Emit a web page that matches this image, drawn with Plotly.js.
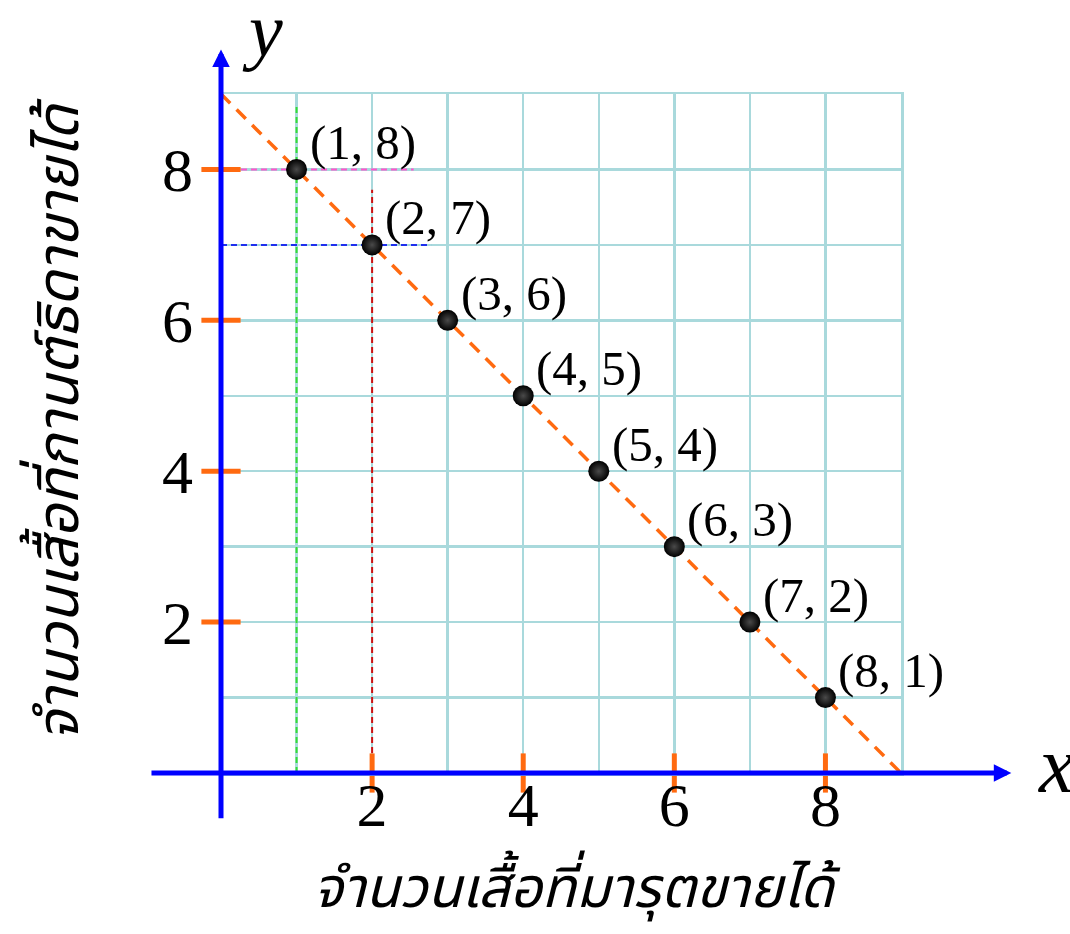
<!DOCTYPE html>
<html><head><meta charset="utf-8">
<script src="https://cdn.plot.ly/plotly-3.0.1.min.js"></script>
<style>html,body{margin:0;padding:0;background:#fff;}#chart{width:1070px;height:934px;}</style>
</head><body><div id="chart"></div>
<script>
// ---- data ----
const pointX = [1, 2, 3, 4, 5, 6, 7, 8];
const pointY = [8, 7, 6, 5, 4, 3, 2, 1];
const lineX = [0, 9];
const lineY = [9, 0];
const tickVals = [2, 4, 6, 8];
const tickText = ['2', '4', '6', '8'];
const greenGuideX = [1, 1];    const greenGuideY = [0, 8.85];
const pinkGuideX = [0, 2.55];  const pinkGuideY = [8, 8];
const redGuideX = [2, 2];      const redGuideY = [0, 7.73];
const blueGuideX = [0, 2.78];  const blueGuideY = [7, 7];
const xAxisSpan = [-0.94, 10.46];
const yAxisSpan = [-0.62, 9.59];
const xTitle = 'จำนวนเสื้อที่มารุตขายได้';
const yTitle = 'จำนวนเสื้อที่กานต์ธิดาขายได้';

// ---- styles ----
const RANGE = [0, 9];
const GRID = '#a9d9dc';
const ORANGE = '#ff6a10';
const SERIF = 'Liberation Serif, Times New Roman, serif';
const THAI = 'Noto Sans Thai, Noto Sans Thai UI, Loma, Garuda, Tlwg Typo, Noto Sans, sans-serif';
const PLOT_W = 1070 - 221 - 169;
const PLOT_H = 934 - 94 - 161;

function guide(x, y, color) {
  return {x: x, y: y, mode: 'lines', hoverinfo: 'skip', showlegend: false,
          line: {color: color, width: 2, dash: '6px,4px'}};
}

const traces = [
  guide(greenGuideX, greenGuideY, '#33dd33'),
  guide(pinkGuideX, pinkGuideY, '#ff55cc'),
  guide(redGuideX, redGuideY, '#cc1111'),
  guide(blueGuideX, blueGuideY, '#1f2fee'),
  {x: lineX, y: lineY, mode: 'lines', hoverinfo: 'skip', showlegend: false,
   line: {color: ORANGE, width: 3.5, dash: '13px,9px'}},
  {x: tickVals.map(() => 0), y: tickVals, mode: 'markers', cliponaxis: false, showlegend: false,
   marker: {symbol: 'line-ew', size: 28, line: {color: ORANGE, width: 5}}},
  {x: tickVals, y: tickVals.map(() => 0), mode: 'markers', cliponaxis: false, showlegend: false,
   marker: {symbol: 'line-ns', size: 28, line: {color: ORANGE, width: 5}}},
  {x: pointX, y: pointY, mode: 'markers', cliponaxis: false, showlegend: false,
   marker: {size: 21, color: '#000', gradient: {type: 'radial', color: '#4a4a4a'}, line: {width: 0}}}
];

const toPaper = (v) => (v - RANGE[0]) / (RANGE[1] - RANGE[0]);
const annotations = [
  // blue x axis with arrow
  {xref: 'paper', yref: 'paper', x: toPaper(xAxisSpan[1]), y: toPaper(0),
   axref: 'pixel', ayref: 'pixel', ax: -(xAxisSpan[1] - xAxisSpan[0]) * PLOT_W / 9, ay: 0,
   text: '', showarrow: true, arrowhead: 2, arrowsize: 0.7, arrowwidth: 5, arrowcolor: '#0000ff', standoff: 0},
  // blue y axis with arrow
  {xref: 'paper', yref: 'paper', x: toPaper(0), y: toPaper(yAxisSpan[1]),
   axref: 'pixel', ayref: 'pixel', ax: 0, ay: (yAxisSpan[1] - yAxisSpan[0]) * PLOT_H / 9,
   text: '', showarrow: true, arrowhead: 2, arrowsize: 0.7, arrowwidth: 5, arrowcolor: '#0000ff', standoff: 0},
  {xref: 'paper', yref: 'paper', x: 0.0604, y: 1.094, text: '<i>y</i>', showarrow: false,
   xanchor: 'center', yanchor: 'middle', font: {family: SERIF, size: 76, color: '#000'}},
  {xref: 'paper', yref: 'paper', x: 1.228, y: 0, yshift: 8, text: '<i>x</i>', showarrow: false,
   xanchor: 'center', yanchor: 'middle', font: {family: SERIF, size: 80, color: '#000'}},
  {xref: 'paper', yref: 'paper', x: 0.524, y: -0.172, text: '<i>' + xTitle + '</i>', showarrow: false,
   xanchor: 'center', yanchor: 'middle', font: {family: THAI, size: 56, color: '#000'}},
  {xref: 'paper', yref: 'paper', x: -0.237, y: 0.52, text: '<i>' + yTitle + '</i>', showarrow: false,
   textangle: -90, xanchor: 'center', yanchor: 'middle', font: {family: THAI, size: 58, color: '#000'}}
];
pointX.forEach((px, i) => {
  annotations.push({x: px, y: pointY[i], xref: 'x', yref: 'y', text: '(' + px + ', ' + pointY[i] + ')',
    showarrow: false, xanchor: 'left', yanchor: 'middle', xshift: 11, yshift: 27,
    font: {family: SERIF, size: 49, color: '#000'}});
});

const axisCommon = {
  range: RANGE, tickmode: 'array', tickvals: tickVals, ticktext: tickText,
  showgrid: true, gridcolor: GRID, gridwidth: 2.5,
  minor: {tickmode: 'linear', tick0: 0, dtick: 1, showgrid: true, gridcolor: GRID, gridwidth: 2.5},
  zeroline: false, showline: true, mirror: true, linecolor: GRID, linewidth: 2.5,
  ticks: '', tickfont: {family: SERIF, size: 62, color: '#000'}, fixedrange: true
};

const layout = {
  width: 1070, height: 934,
  margin: {l: 221, r: 169, t: 94, b: 161},
  paper_bgcolor: '#fff', plot_bgcolor: '#fff',
  showlegend: false,
  xaxis: Object.assign({}, axisCommon, {ticklabelstandoff: -24}),
  yaxis: Object.assign({}, axisCommon, {ticklabelstandoff: 13}),
  annotations: annotations
};

Plotly.newPlot('chart', traces, layout, {displayModeBar: false, staticPlot: true});
</script></body></html>
